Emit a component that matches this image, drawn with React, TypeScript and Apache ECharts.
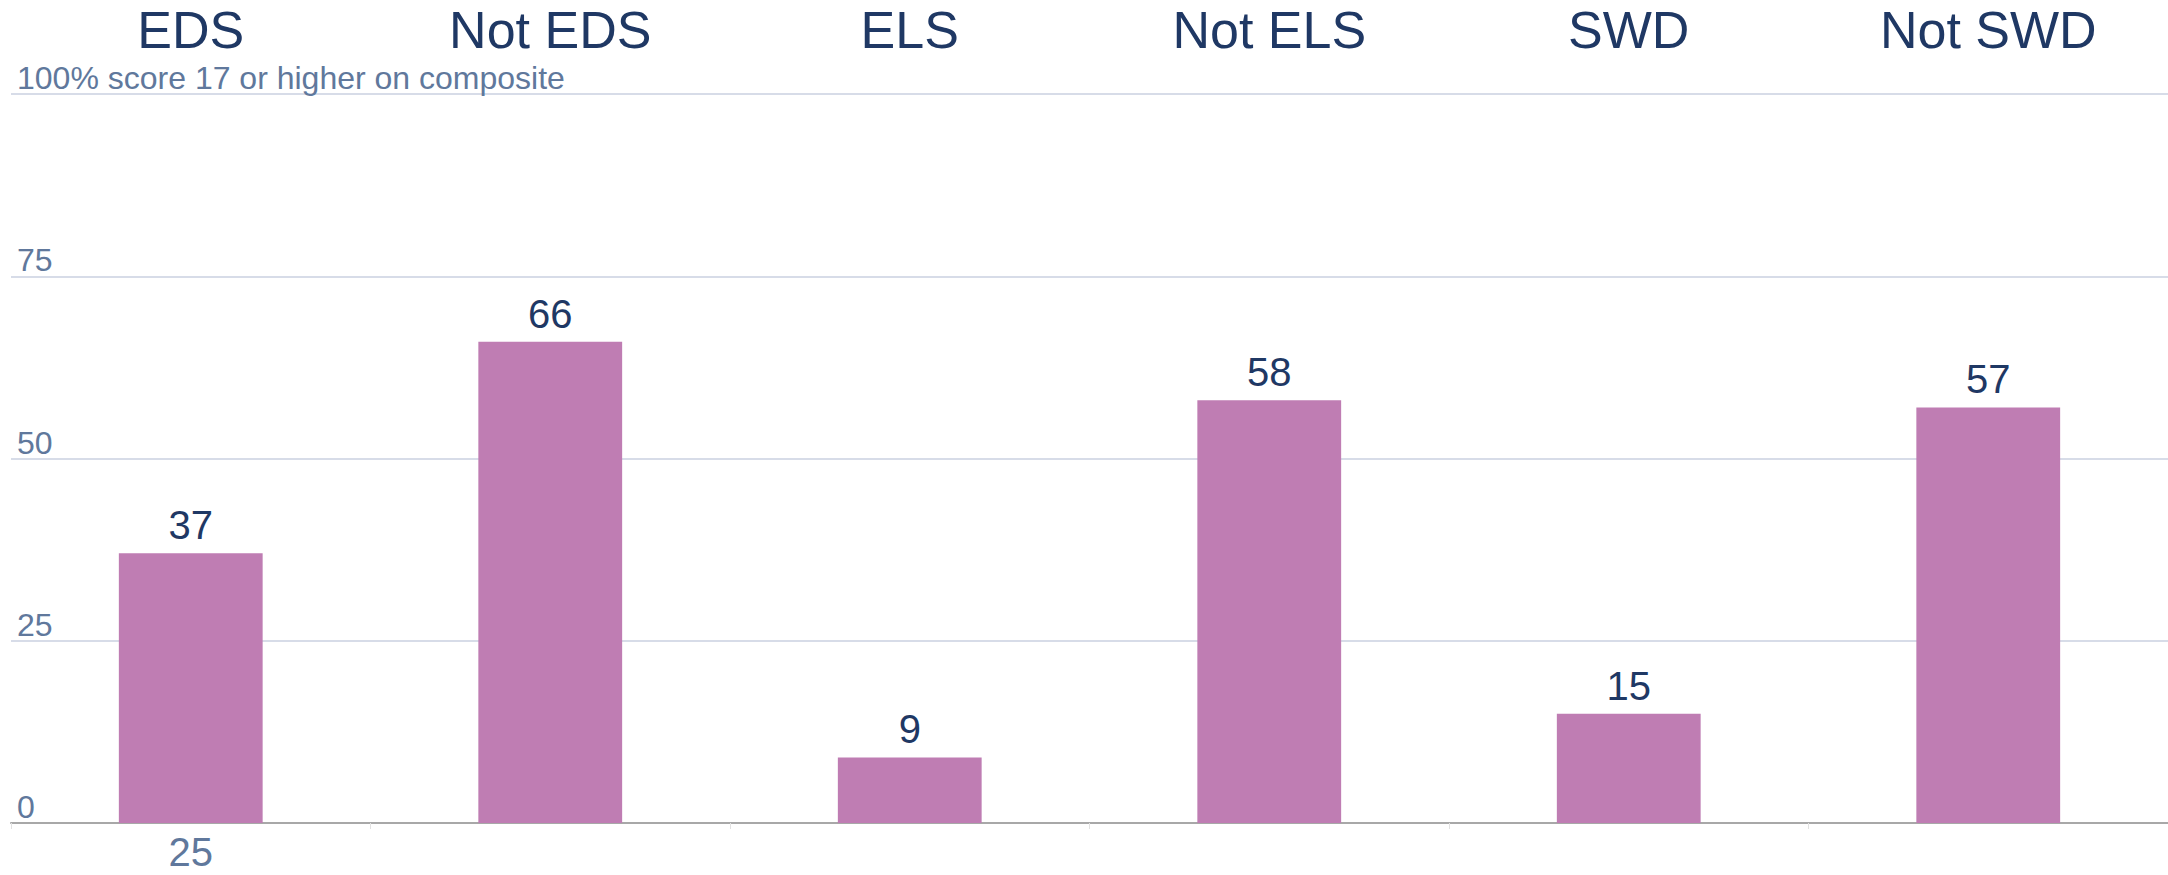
import React, { useEffect, useRef } from "react";
import * as echarts from "echarts";

const categories = ["EDS", "Not EDS", "ELS", "Not ELS", "SWD", "Not SWD"];
const values = [37, 66, 9, 58, 15, 57];
const bottomLabels = ["25", "", "", "", "", ""];
const yTicks = [0, 25, 50, 75, 100];
const topTickText = "100% score 17 or higher on composite";

const FONT = "'Liberation Sans', Arial, sans-serif";
const NAVY = "#1f3864";
const SLATE = "#60789c";
const BAR = "#bf7db3";

export default function App() {
  const ref = useRef<HTMLDivElement>(null);
  useEffect(() => {
    document.body.style.margin = "0";
    if (!ref.current) return;
    const chart = echarts.init(ref.current, undefined, { renderer: "svg" });
    chart.setOption({
      animation: false,
      backgroundColor: "#ffffff",
      textStyle: { fontFamily: FONT },
      grid: { left: 11, right: 0, top: 94, bottom: 52, containLabel: false },
      xAxis: [
        {
          type: "category",
          data: categories,
          position: "top",
          axisLine: { show: false },
          axisTick: { show: false },
          axisLabel: {
            fontSize: 52,
            lineHeight: 52,
            color: NAVY,
            fontFamily: FONT,
            margin: 38,
          },
        },
        {
          type: "category",
          data: bottomLabels,
          position: "bottom",
          axisLine: { show: true, lineStyle: { color: "#a8a8a8", width: 2 } },
          axisTick: { show: true, length: 6, lineStyle: { color: "#e2e2e2", width: 1 } },
          axisLabel: {
            fontSize: 40,
            lineHeight: 40,
            color: SLATE,
            fontFamily: FONT,
            margin: 9,
          },
          z: 1,
        },
      ],
      yAxis: {
        type: "value",
        min: yTicks[0],
        max: yTicks[yTicks.length - 1],
        interval: yTicks[1] - yTicks[0],
        axisLine: { show: false },
        axisTick: { show: false },
        splitLine: { show: true, lineStyle: { color: "#d7dce8", width: 2 } },
        axisLabel: {
          inside: true,
          margin: 6,
          verticalAlign: "bottom",
          fontSize: 32,
          color: SLATE,
          fontFamily: FONT,
          formatter: (v: number) => (v === yTicks[yTicks.length - 1] ? topTickText : String(v)),
        },
      },
      series: [
        {
          type: "bar",
          data: values,
          xAxisIndex: 0,
          barWidth: "40%",
          itemStyle: { color: BAR },
          z: 2,
          label: {
            show: true,
            position: "top",
            distance: 8,
            fontSize: 40,
            color: NAVY,
            fontFamily: FONT,
          },
        },
      ],
    });
    return () => chart.dispose();
  }, []);
  return <div ref={ref} style={{ width: 2168, height: 875 }} />;
}
